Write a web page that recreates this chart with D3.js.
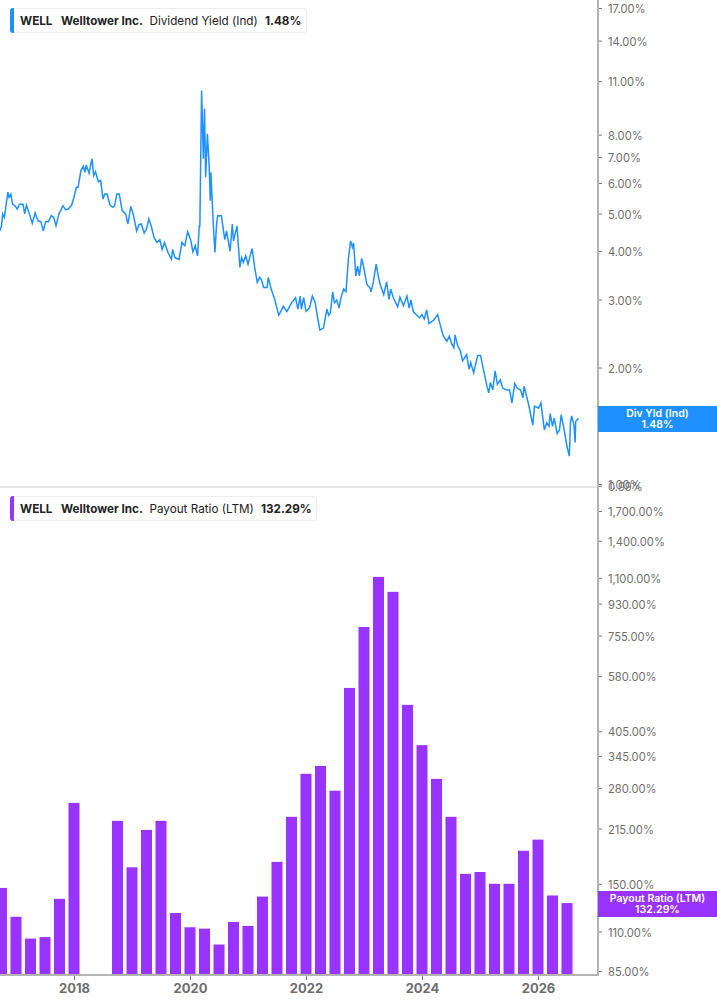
<!DOCTYPE html>
<html><head><meta charset="utf-8">
<script src="https://cdn.jsdelivr.net/npm/d3@7"></script>
<style>html,body{margin:0;padding:0;background:#fff}svg{display:block}text{font-family:Inter,"Noto Sans",sans-serif}</style>
</head><body><svg id="c" width="717" height="1005"></svg>
<script>
const lineYears=[2016.72,2016.75,2016.77,2016.80,2016.86,2016.88,2016.91,2016.94,2016.98,2017.02,2017.06,2017.12,2017.15,2017.18,2017.24,2017.28,2017.33,2017.38,2017.43,2017.47,2017.51,2017.56,2017.61,2017.65,2017.69,2017.74,2017.81,2017.85,2017.90,2017.96,2018.00,2018.04,2018.07,2018.12,2018.16,2018.19,2018.21,2018.26,2018.31,2018.34,2018.37,2018.42,2018.46,2018.50,2018.53,2018.57,2018.62,2018.67,2018.70,2018.74,2018.78,2018.83,2018.89,2018.93,2018.98,2019.02,2019.08,2019.12,2019.16,2019.21,2019.25,2019.29,2019.33,2019.38,2019.43,2019.48,2019.52,2019.56,2019.62,2019.68,2019.70,2019.74,2019.81,2019.86,2019.91,2019.96,2020.01,2020.05,2020.09,2020.13,2020.16,2020.17,2020.20,2020.23,2020.25,2020.27,2020.30,2020.33,2020.35,2020.36,2020.40,2020.43,2020.46,2020.48,2020.54,2020.60,2020.63,2020.69,2020.73,2020.75,2020.81,2020.86,2020.89,2020.92,2020.96,2021.00,2021.07,2021.12,2021.16,2021.20,2021.23,2021.27,2021.33,2021.35,2021.40,2021.46,2021.53,2021.61,2021.67,2021.75,2021.82,2021.86,
2021.90,2021.92,2021.96,2022.00,2022.06,2022.11,2022.16,2022.20,2022.24,2022.30,2022.36,2022.39,2022.42,2022.46,2022.49,2022.53,2022.57,2022.60,2022.65,2022.69,2022.73,2022.77,2022.80,2022.82,2022.86,2022.89,2022.92,2022.96,2022.99,2023.05,2023.11,2023.12,2023.16,2023.21,2023.25,2023.28,2023.34,2023.39,2023.43,2023.46,2023.51,2023.58,2023.62,2023.68,2023.74,2023.78,2023.81,2023.85,2023.91,2023.96,2024.00,2024.04,2024.08,2024.12,2024.20,2024.27,2024.31,2024.37,2024.43,2024.47,2024.51,2024.55,2024.57,2024.61,2024.66,2024.70,2024.77,2024.81,2024.84,2024.89,2024.96,2025.01,2025.07,2025.12,2025.15,2025.18,2025.22,2025.26,2025.30,2025.35,2025.39,2025.46,2025.51,2025.55,2025.60,2025.64,2025.70,2025.74,2025.76,2025.84,2025.91,2025.94,2026.01,2026.05,2026.11,2026.15,2026.19,2026.21,2026.25,2026.28,2026.33,2026.37,2026.40,2026.44,2026.50,2026.54,2026.56,2026.58,2026.62,2026.64,2026.65,2026.70];
const lineValues=[4.51,4.65,4.99,4.89,5.68,5.51,5.62,5.29,5.24,5.14,5.29,5.29,4.99,5.26,4.94,4.72,5.02,4.79,4.76,4.51,4.76,4.76,4.94,4.89,4.65,4.99,5.24,5.12,5.14,5.26,5.51,5.85,5.85,6.46,6.63,6.39,6.68,6.36,6.93,6.27,6.42,6.05,6.09,5.45,5.62,5.62,5.26,5.19,5.24,5.62,5.62,5.09,4.99,4.70,5.22,4.99,4.51,4.68,4.70,4.45,4.56,4.84,4.65,4.34,4.21,4.28,4.04,4.21,3.97,3.81,4.04,3.85,3.80,4.21,4.13,4.49,4.28,3.98,4.13,3.89,4.65,4.65,10.40,6.93,9.34,6.21,8.04,6.66,5.40,6.39,4.74,3.97,4.74,4.94,4.94,4.28,4.51,4.00,4.70,4.25,4.65,3.63,3.85,3.74,3.89,3.70,4.06,3.59,3.32,3.42,3.38,3.22,3.22,3.42,3.19,3.00,2.73,2.88,2.79,2.94,3.03,2.83,
3.06,2.83,3.03,2.80,2.85,3.06,2.94,2.69,2.50,2.53,2.83,2.73,2.77,3.14,2.94,2.99,2.85,3.02,3.19,3.14,3.81,4.25,4.09,4.20,3.45,3.66,3.45,3.83,3.66,3.28,3.20,3.14,3.32,3.70,3.42,3.28,3.09,3.33,3.00,3.19,3.02,2.87,3.04,2.89,3.06,2.85,2.99,2.79,2.73,2.69,2.74,2.67,2.82,2.60,2.65,2.74,2.59,2.41,2.34,2.41,2.31,2.25,2.43,2.29,2.21,2.08,2.16,1.98,2.06,1.94,2.15,2.15,1.94,1.79,1.72,1.83,1.75,1.96,1.81,1.86,1.77,1.75,1.75,1.62,1.82,1.77,1.75,1.67,1.79,1.60,1.42,1.59,1.57,1.62,1.38,1.44,1.41,1.52,1.41,1.48,1.35,1.38,1.51,1.41,1.25,1.18,1.44,1.50,1.42,1.28,1.45,1.48];

const barYears=[2016.75,2017,2017.25,2017.5,2017.75,2018,2018.25,2018.5,2018.75,2019,2019.25,2019.5,2019.75,2020,2020.25,2020.5,2020.75,2021,2021.25,2021.5,2021.75,2022,2022.25,2022.5,2022.75,2023,2023.25,2023.5,2023.75,2024,2024.25,2024.5,2024.75,2025,2025.25,2025.5,2025.75,2026,2026.25,2026.5];
const barValues=[146,121,105,106,136,254,null,null,226,167,213,226,124,113,112,101,117,114,138,173,232,307,323,275,537,799,1107,1004,481,370,297,232,160,162,150,150,186,200,139,132.29];

const yieldTicks=[0.99,1,2,3,4,5,6,7,8,11,14,17];
const payoutTicks=[85,110,150,215,280,345,405,580,755,930,1100,1400,1700];
const yearTicks=[2018,2020,2022,2024,2026];

const svg=d3.select("#c");
const x=d3.scaleLinear().domain([2018,2026]).range([74,538]);
const yTop=d3.scaleLog().domain([1,17]).range([484,8]);
const yBot=d3.scaleLog().domain([85,1700]).range([971,511]);
const axisX=598, baseY=975;
const gray="#b3b3b3", tickTxt="#6e6e6e";

const defs=svg.append("defs");
defs.append("clipPath").attr("id","plot").append("rect").attr("x",0).attr("y",0).attr("width",axisX).attr("height",1005);

svg.append("line").attr("x1",0).attr("x2",axisX).attr("y1",487).attr("y2",487).attr("stroke","#dcdcdc").attr("stroke-width",1.5);

svg.append("g").attr("clip-path","url(#plot)").selectAll("rect")
  .data(barYears.map((d,i)=>({d,v:barValues[i]})).filter(o=>o.v!=null))
  .join("rect")
  .attr("x",o=>x(o.d)-5.5).attr("width",11)
  .attr("y",o=>yBot(o.v)).attr("height",o=>baseY-yBot(o.v))
  .attr("fill","#9933ff");

svg.append("path").attr("clip-path","url(#plot)")
  .attr("d",d3.line().x((d,i)=>x(lineYears[i])).y(d=>yTop(d))(lineValues))
  .attr("fill","none").attr("stroke","#1e90ff").attr("stroke-width",1.5).attr("stroke-linejoin","miter");

function styleAxis(g){
  g.select(".domain").remove();
  g.selectAll(".tick line").attr("stroke","#777").attr("stroke-width",1);
  g.selectAll(".tick text").attr("fill",tickTxt);
}
const axT=d3.axisRight(yTop).tickValues(yieldTicks).tickSize(3).tickPadding(6).tickFormat(d=>d.toFixed(2)+"%");
svg.append("g").attr("transform",`translate(${axisX+1},0)`).call(axT).call(styleAxis)
  .selectAll("text").attr("font-size",11.2).attr("dy","0.42em").style("font-family","Inter,sans-serif");
const axB=d3.axisRight(yBot).tickValues(payoutTicks).tickSize(3).tickPadding(6).tickFormat(d=>d3.format(",.2f")(d)+"%");
svg.append("g").attr("transform",`translate(${axisX+1},0)`).call(axB).call(styleAxis)
  .selectAll("text").attr("font-size",11.2).attr("dy","0.42em").style("font-family","Inter,sans-serif");
const axX=d3.axisBottom(x).tickValues(yearTicks).tickSize(5).tickPadding(4).tickFormat(d3.format("d"));
svg.append("g").attr("transform",`translate(0,${baseY})`).call(axX).call(styleAxis)
  .selectAll("text").attr("font-size",13).attr("font-weight",700).style("font-family","Inter,sans-serif");

svg.append("line").attr("x1",0).attr("x2",axisX).attr("y1",baseY).attr("y2",baseY).attr("stroke",gray).attr("stroke-width",2);
svg.append("line").attr("x1",axisX).attr("x2",axisX).attr("y1",0).attr("y2",baseY+1).attr("stroke",gray).attr("stroke-width",2);

function tag(y0,color,l1,l2){
  svg.append("rect").attr("x",axisX).attr("y",y0).attr("width",119).attr("height",26).attr("fill",color);
  const t=svg.append("text").attr("x",657.5).attr("text-anchor","middle").attr("fill","#fff").attr("font-size",10.5).attr("font-weight",600);
  t.append("tspan").attr("x",657.5).attr("y",y0+10.5).text(l1);
  t.append("tspan").attr("x",657.5).attr("y",y0+22).text(l2);
}
tag(406,"#1e90ff","Div Yld (Ind)","1.48%");
tag(891,"#9933ff","Payout Ratio (LTM)","132.29%");

function legend(y0,w,color,metric,val,valX){
  svg.append("rect").attr("x",10.5).attr("y",y0+.5).attr("width",w).attr("height",24).attr("rx",3).attr("fill","#fff").attr("stroke","#ececec");
  svg.append("path").attr("d",`M14,${y0} h-1 a3,3 0 0 0 -3,3 v19 a3,3 0 0 0 3,3 h1 z`).attr("fill",color);
  const base=y0+17;
  const add=(tx,s,b)=>svg.append("text").attr("x",tx).attr("y",base).attr("font-size",11.7).attr("fill","#222").attr("font-weight",b?700:400).text(s);
  add(20,"WELL",true);add(61,"Welltower Inc.",true);add(149.5,metric,false);add(valX,val,true);
}
legend(8,296,"#1e90ff","Dividend Yield (Ind)","1.48%",265);
legend(496,306,"#9933ff","Payout Ratio (LTM)","132.29%",261);
</script></body></html>
